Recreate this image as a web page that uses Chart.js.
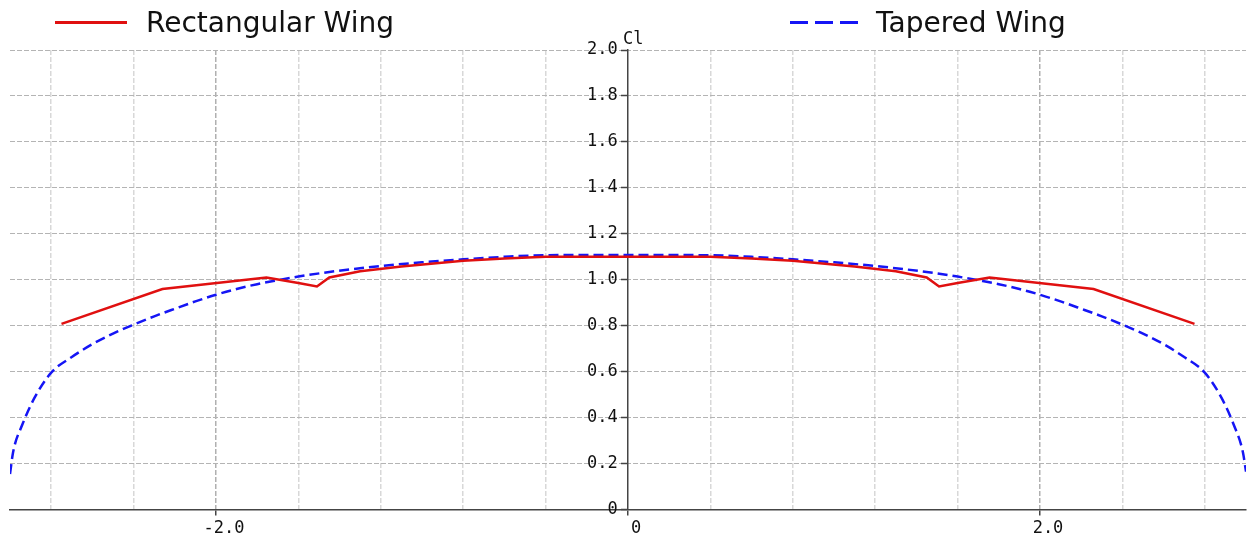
<!DOCTYPE html>
<html>
<head>
<meta charset="utf-8">
<script src="https://cdn.jsdelivr.net/npm/chart.js@4"></script>
<style>
  body { margin: 0; background: #fff; }
  #wrap { position: relative; width: 1251px; height: 542px; }
  #legend .item { position: absolute; top: 5px; height: 34px; display: flex; align-items: center; }
  #legend .item:nth-child(1) { left: 55px; }
  #legend .item:nth-child(2) { left: 790px; }
  #legend .swatch { width: 72px; height: 3px; margin-right: 19px; }
  #legend .item:nth-child(2) .swatch { width: 68px; margin-right: 18px; }
  #legend .text { font: 28px 'DejaVu Sans', sans-serif; color: #111; white-space: nowrap; }
  #cl { position: absolute; left: 623px; top: 28px; font: 17px 'DejaVu Sans Mono', monospace; color: #111; }
</style>
</head>
<body>
<div id="wrap">
  <canvas id="chart" width="1251" height="542"></canvas>
  <div id="legend"></div>
  <div id="cl">Cl</div>
</div>
<script>
// spanwise position (x) and lift coefficient (Cl)
const rectX = [-2.75, -2.26, -1.755, -1.6, -1.51, -1.45, -1.3, -1.1, -0.8, -0.6, -0.4, 0, 0.4, 0.6, 0.8, 1.1, 1.3, 1.45, 1.51, 1.6, 1.755, 2.26, 2.75];
const rectCl = [0.808, 0.960, 1.010, 0.986, 0.971, 1.010, 1.037, 1.058, 1.083, 1.093, 1.100, 1.100, 1.100, 1.093, 1.083, 1.058, 1.037, 1.010, 0.971, 0.986, 1.010, 0.960, 0.808];

const taperX = [-3.0, -2.985, -2.94, -2.88, -2.8, -2.7, -2.6, -2.5, -2.4, -2.3, -2.2, -2.1, -2.0, -1.9, -1.8, -1.7, -1.6, -1.45, -1.2, -1.0, -0.8, -0.6, -0.4, 0,
                0.4, 0.6, 0.8, 1.0, 1.2, 1.45, 1.6, 1.7, 1.8, 1.9, 2.0, 2.1, 2.2, 2.3, 2.4, 2.5, 2.6, 2.7, 2.8, 2.88, 2.94, 2.985, 3.0];
const taperCl = [0.155, 0.250, 0.370, 0.488, 0.596, 0.664, 0.720, 0.766, 0.805, 0.841, 0.874, 0.906, 0.935, 0.960, 0.981, 0.998, 1.014, 1.034, 1.060, 1.076, 1.089, 1.100, 1.107, 1.108,
                 1.107, 1.100, 1.089, 1.076, 1.060, 1.034, 1.014, 0.998, 0.981, 0.960, 0.935, 0.906, 0.874, 0.841, 0.805, 0.766, 0.720, 0.664, 0.596, 0.488, 0.370, 0.250, 0.165];

const xGrid = [-2.8, -2.4, -2.0, -1.6, -1.2, -0.8, -0.4, 0, 0.4, 0.8, 1.2, 1.6, 2.0, 2.4, 2.8];
const xLabelled = [-2.0, 0, 2.0];

const toPoints = (xs, ys) => xs.map((x, i) => ({ x, y: ys[i] }));
const isMajor = v => xLabelled.some(m => Math.abs(m - v) < 1e-9);

// legend drawn as html so the two entries can sit far apart like in the original
const htmlLegend = {
    id: 'htmlLegend',
    afterUpdate(chart) {
        const box = document.getElementById('legend');
        box.innerHTML = '';
        const items = chart.options.plugins.legend.labels.generateLabels(chart);
        items.forEach(item => {
            const ds = chart.data.datasets[item.datasetIndex];
            const el = document.createElement('div');
            el.className = 'item';
            const sw = document.createElement('span');
            sw.className = 'swatch';
            if (ds.borderDash && ds.borderDash.length) {
                sw.style.background = `repeating-linear-gradient(90deg, ${ds.borderColor} 0 18px, transparent 18px 25px)`;
            } else {
                sw.style.background = ds.borderColor;
            }
            const tx = document.createElement('span');
            tx.className = 'text';
            tx.textContent = item.text;
            el.appendChild(sw);
            el.appendChild(tx);
            box.appendChild(el);
        });
    }
};

const ctx = document.querySelector('#chart');

const chart = new Chart(ctx, {
    type: 'line',
    data: {
        datasets: [
            {
                label: 'Rectangular Wing',
                data: toPoints(rectX, rectCl),
                borderColor: '#e01010',
                borderWidth: 2.5,
                pointRadius: 0,
                tension: 0
            },
            {
                label: 'Tapered Wing',
                data: toPoints(taperX, taperCl),
                borderColor: '#1515f5',
                borderWidth: 2.5,
                borderDash: [10, 5],
                pointRadius: 0,
                cubicInterpolationMode: 'monotone'
            }
        ]
    },
    options: {
        responsive: false,
        animation: false,
        layout: { padding: { left: 10, right: 5, top: 50, bottom: 0 } },
        plugins: {
            legend: { display: false },
            tooltip: { enabled: false }
        },
        scales: {
            x: {
                type: 'linear',
                min: -3,
                max: 3,
                afterBuildTicks: scale => { scale.ticks = xGrid.map(v => ({ value: v })); },
                grid: {
                    color: c => Math.abs(c.tick.value) < 1e-9 ? 'rgba(0,0,0,0)' : (isMajor(c.tick.value) ? '#b0b0b0' : '#d8d8d8'),
                    lineWidth: 1.5,
                    tickLength: 6,
                    tickColor: c => isMajor(c.tick.value) ? '#444' : 'rgba(0,0,0,0)',
                    tickWidth: 1.5,
                    tickBorderDash: []
                },
                border: { color: '#444', width: 1.5, dash: [5, 2] },
                ticks: {
                    autoSkip: false,
                    maxRotation: 0,
                    padding: 3,
                    labelOffset: 8,
                    color: '#111',
                    font: { family: 'DejaVu Sans Mono', size: 17 },
                    callback: v => isMajor(v) ? (v === 0 ? '0' : v.toFixed(1)) : ''
                }
            },
            y: {
                min: 0,
                max: 2.0,
                position: { x: 0 },
                grid: {
                    color: '#b4b4b4',
                    lineWidth: 1,
                    tickLength: 6,
                    tickColor: '#444',
                    tickWidth: 1.5,
                    tickBorderDash: []
                },
                border: { color: '#444', width: 1.5, dash: [5, 2] },
                ticks: {
                    stepSize: 0.2,
                    padding: 3,
                    color: '#111',
                    font: { family: 'DejaVu Sans Mono', size: 17 },
                    // trailing space keeps the label clear of the axis line
                    callback: v => (v === 0 ? '0' : v.toFixed(1)) + ' '
                }
            }
        }
    },
    plugins: [htmlLegend]
});
</script>
</body>
</html>
